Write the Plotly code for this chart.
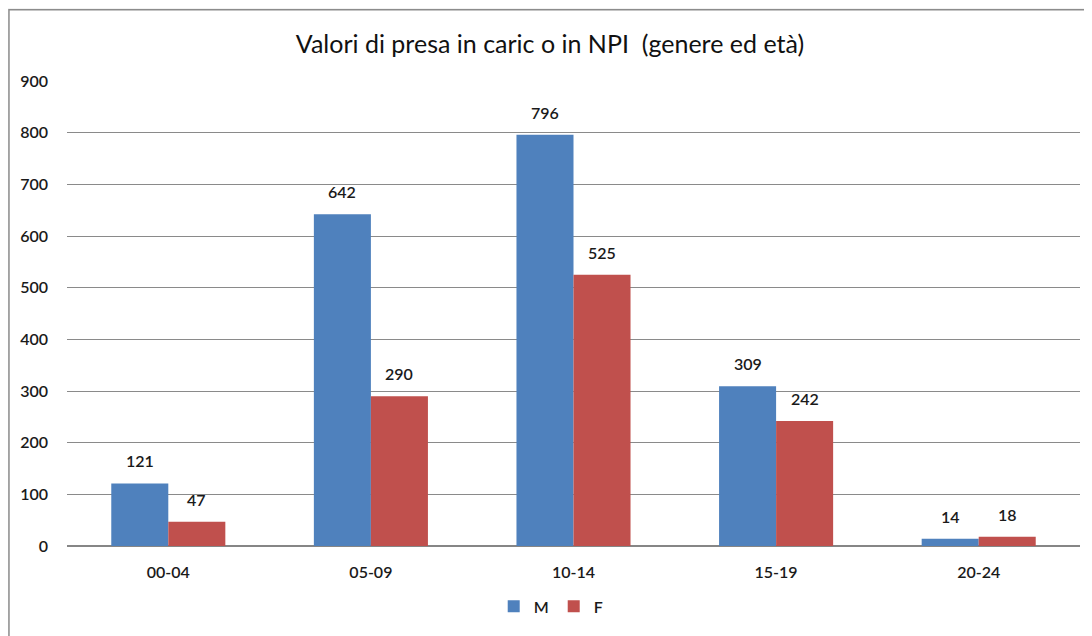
import plotly.graph_objects as go

# Data
age_groups = ['00-04', '05-09', '10-14', '15-19', '20-24']
male_counts = [121, 642, 796, 309, 14]
female_counts = [47, 290, 525, 242, 18]
y_ticks = [0, 100, 200, 300, 400, 500, 600, 700, 800, 900]

BLUE = '#4F81BD'
RED = '#C0504D'
FONT = 'Lato'
TXT = '#1a1a1a'

fig = go.Figure()
fig.add_trace(go.Bar(
    x=age_groups, y=male_counts, name='M',
    marker=dict(color=BLUE, line=dict(width=0)),
))
fig.add_trace(go.Bar(
    x=age_groups, y=female_counts, name='F',
    marker=dict(color=RED, line=dict(width=0)),
))

# value labels above each bar
bar_half = 28.5
for cat, m, f in zip(age_groups, male_counts, female_counts):
    for val, shift in ((m, -bar_half), (f, bar_half)):
        fig.add_annotation(
            x=cat, y=val, text=str(val), showarrow=False,
            xshift=shift, yshift=11, yanchor='bottom',
            font=dict(family=FONT, size=16, color=TXT, weight=600),
        )

# outer chart frame (page has an 8px body margin)
fig.add_shape(
    type='rect', xref='paper', yref='paper',
    x0=-0.0573, x1=1.04, y0=-0.3, y1=1.153,
    line=dict(color='#8c8c8c', width=1.5),
    fillcolor='white', layer='below',
)

fig.update_layout(
    width=1084, height=628,
    margin=dict(l=59, r=12, t=73, b=90),
    paper_bgcolor='#f2f2f2',
    plot_bgcolor='rgba(0,0,0,0)',
    font=dict(family=FONT, color=TXT),
    title=dict(
        text='Valori di presa in caric o in NPI  (genere ed età)',
        x=0.5, xanchor='center', y=0.942, yanchor='middle',
        font=dict(family=FONT, size=25, color='#111111'),
    ),
    barmode='group', bargap=0.437, bargroupgap=0,
    showlegend=True,
    legend=dict(
        orientation='h', x=0.478, xanchor='center', y=-0.13, yanchor='middle',
        font=dict(family=FONT, size=16, weight=600), itemwidth=30,
        bgcolor='rgba(0,0,0,0)',
    ),
    xaxis=dict(
        type='category',
        showgrid=False, showline=True, linecolor='#868686', linewidth=1,
        tickfont=dict(family=FONT, size=16, color=TXT, weight=600),
        ticks='', ticklabelstandoff=12,
    ),
    yaxis=dict(
        range=[0, 900], tickvals=y_ticks,
        showgrid=True, gridcolor='#8a8a8a', gridwidth=1,
        zeroline=True, zerolinecolor='#868686',
        tickfont=dict(family=FONT, size=16, color=TXT, weight=600),
        ticklabelstandoff=18,
    ),
)

fig.write_html('out.html')
